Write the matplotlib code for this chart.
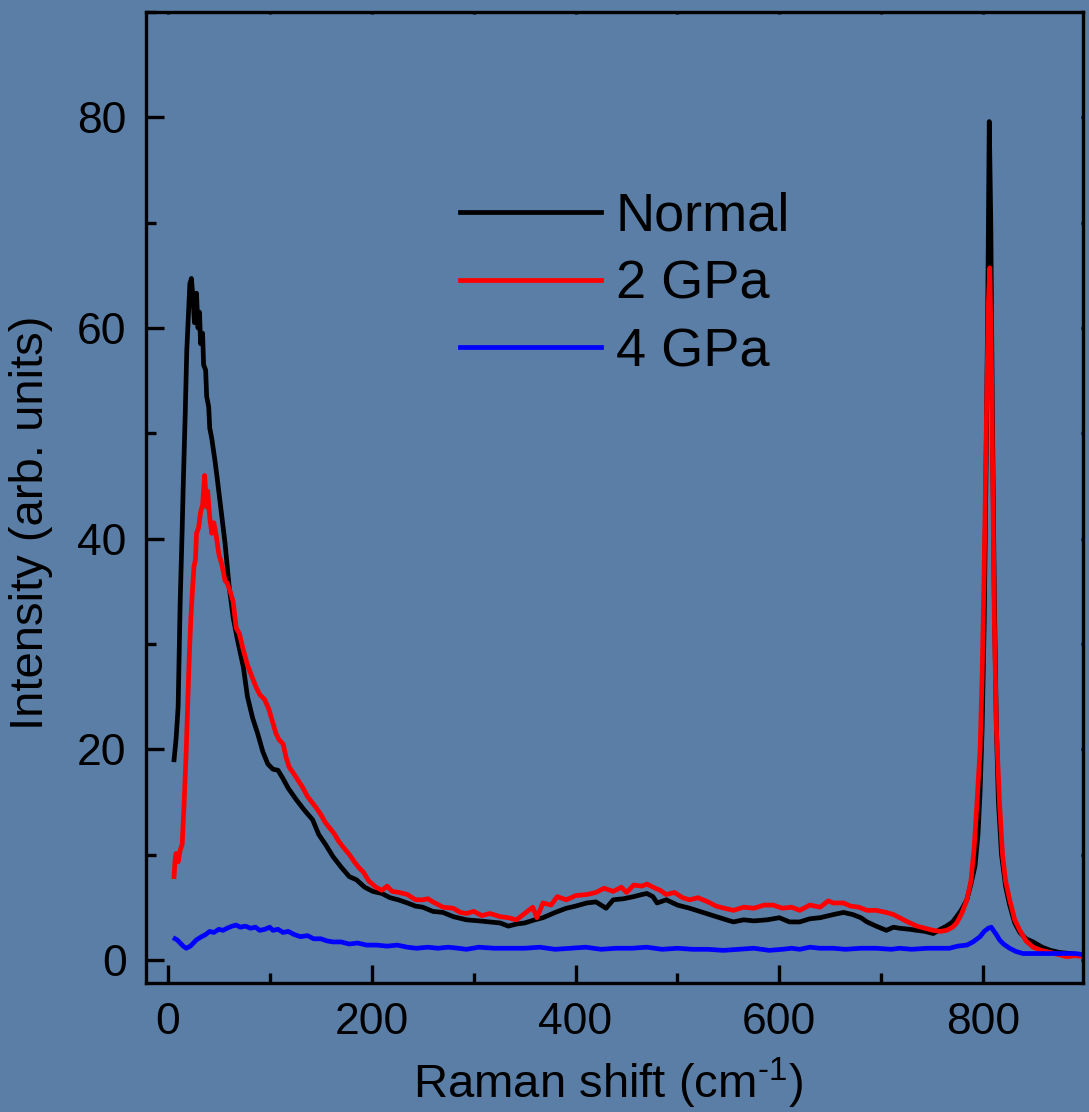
import numpy as np
import matplotlib
matplotlib.use("Agg")
import matplotlib.pyplot as plt
from matplotlib.ticker import MultipleLocator

plt.rcParams['font.family'] = ['Liberation Sans', 'DejaVu Sans']
plt.rcParams['mathtext.fontset'] = 'custom'
plt.rcParams['mathtext.rm'] = 'Liberation Sans'
plt.rcParams['mathtext.it'] = 'Liberation Sans'

# ---------------- data ----------------

normal_x = [6, 8, 10, 12, 14, 15, 17, 18.5, 20, 21.5, 23, 24.5, 26, 27, 28, 29.5, 31, 32, 34, 35,
            37, 38, 40, 41, 43, 46, 48, 51, 53, 56, 60, 64, 68, 74, 78, 83, 88, 93, 98, 103,
            108, 113, 118, 126, 134, 142, 148, 155, 162, 170, 178, 185, 193, 201, 210, 218, 226, 235, 243, 250,
            260, 270, 280, 293, 305, 315, 326, 334, 342, 350, 360, 368, 380, 391, 400, 411, 420, 430, 437, 447,
            457, 465, 470, 476, 480, 489, 500, 512, 525, 538, 548, 555, 565, 575, 588, 600, 610, 620, 630, 640,
            653, 663, 672, 680, 686, 695, 705, 712, 718, 728, 735, 743, 751, 758, 764, 770, 774, 779, 784, 788,
            792, 795, 797, 799, 801, 803, 804.5, 806, 807.5, 809, 811, 813, 815, 818, 822, 826, 831, 836, 842, 849,
            858, 866, 875, 885, 898]
normal_y = [19.0, 21, 24, 34, 41, 45, 52, 57.9, 61, 64.2, 64.7, 63, 60.5, 62.5, 63.3, 60, 61.5, 58.5, 59.5, 56.5,
            56, 53.5, 52.5, 50.5, 49.5, 47.5, 46, 43.6, 42, 39.6, 35.5, 32.5, 30.5, 27.8, 25, 23, 21.5, 19.8, 18.6, 18.1,
            18, 17.2, 16.3, 15.2, 14.2, 13.3, 11.9, 10.9, 9.8, 8.8, 7.9, 7.6, 6.9, 6.5, 6.3, 5.9, 5.7, 5.4, 5.1, 5.0,
            4.6, 4.5, 4.1, 3.8, 3.7, 3.6, 3.5, 3.2, 3.4, 3.5, 3.8, 4.0, 4.5, 4.9, 5.1, 5.4, 5.5, 4.9, 5.7, 5.8,
            6.0, 6.2, 6.3, 6.0, 5.4, 5.7, 5.2, 4.9, 4.5, 4.1, 3.8, 3.6, 3.8, 3.7, 3.8, 4.0, 3.6, 3.6, 3.9, 4.0,
            4.3, 4.5, 4.3, 4.0, 3.6, 3.2, 2.8, 3.1, 3.0, 2.9, 2.8, 2.7, 2.5, 2.9, 3.2, 3.6, 4.1, 4.8, 5.7, 7.2,
            8.9, 12, 16, 22, 32, 48, 62, 79.6, 70, 52, 34, 22, 15, 10, 7, 5.2, 3.5, 2.6, 2.0, 1.7,
            1.2, 0.9, 0.7, 0.6, 0.4]

gpa2_x = [6, 7, 8, 10, 12, 14, 16, 18, 19.5, 21, 22.5, 24, 25.5, 27, 28, 30, 32, 34, 36, 37,
          38, 39, 41, 43, 45, 47, 50, 53, 56, 58, 61, 64, 67, 70, 74, 78, 82, 86, 90, 95,
          99, 103, 106, 109, 113, 116, 119, 124, 128, 132, 137, 141, 145, 150, 154, 158, 163, 168, 172, 178,
          183, 187, 192, 197, 204, 210, 215, 220, 227, 235, 243, 250, 255, 260, 270, 280, 287, 293, 300, 308,
          316, 326, 334, 342, 350, 358, 362, 368, 376, 382, 391, 400, 411, 420, 428, 437, 445, 450, 457, 465,
          470, 476, 483, 489, 497, 505, 512, 520, 530, 538, 546, 555, 565, 575, 585, 594, 603, 612, 620, 630,
          640, 648, 653, 663, 670, 678, 686, 695, 705, 712, 718, 726, 735, 743, 751, 758, 764, 770, 774, 779,
          784, 788, 791, 794, 797, 799, 801, 803, 805, 806.5, 808, 809.5, 811, 813, 816, 819, 822, 826, 831, 836,
          842, 849, 857, 866, 874, 882, 890, 898]
gpa2_y = [7.9, 9.5, 10.1, 9.3, 10.4, 11, 15.2, 20, 24.7, 29, 32.5, 35, 37.3, 38, 40.5, 41, 42.5, 43.2, 46, 44.5,
          43, 44.5, 42, 40.5, 41.5, 40.5, 38.5, 37.5, 36, 35.8, 35, 34, 31.5, 31, 29.4, 28, 27, 26, 25.2, 24.7,
          23.8, 22.5, 21.5, 20.9, 20.5, 19.2, 18.3, 17.6, 17, 16.4, 15.5, 15.0, 14.5, 13.8, 13.1, 12.6, 12, 11.2, 10.7, 10,
          9.3, 8.8, 8.3, 7.5, 6.9, 6.6, 7.0, 6.5, 6.4, 6.2, 5.7, 5.7, 5.8, 5.5, 5.0, 4.9, 4.5, 4.4, 4.6, 4.2,
          4.4, 4.1, 4.0, 3.8, 4.4, 5.0, 4.0, 5.4, 5.2, 6.0, 5.7, 6.1, 6.2, 6.4, 6.8, 6.5, 6.9, 6.4, 7.1, 7.0,
          7.2, 6.9, 6.6, 6.2, 6.4, 5.9, 5.7, 5.9, 5.5, 5.1, 4.9, 4.7, 5.0, 4.9, 5.2, 5.2, 4.9, 5.0, 4.7, 5.2,
          5.0, 5.6, 5.4, 5.4, 5.1, 5.0, 4.7, 4.7, 4.5, 4.3, 4.0, 3.6, 3.2, 3.0, 2.8, 2.7, 2.8, 3.1, 3.5, 4.4,
          5.7, 7.5, 10.4, 15, 20, 27, 37, 50, 62, 65.7, 58, 45, 32, 22, 15, 10, 7.5, 5.7, 3.8, 2.8,
          1.8, 1.2, 0.9, 0.7, 0.5, 0.3, 0.4, 0.3]

gpa4_x = [7, 9, 12, 15, 18, 22, 25, 28, 33, 37, 41, 45, 50, 54, 58, 63, 67, 71, 76, 81,
          86, 90, 95, 100, 103, 108, 113, 118, 124, 130, 137, 143, 150, 156, 162, 170, 178, 186, 195, 205,
          215, 225, 235, 244, 255, 265, 275, 285, 293, 305, 320, 335, 350, 365, 380, 395, 410, 425, 440, 455,
          470, 485, 500, 515, 530, 545, 560, 575, 590, 603, 612, 620, 630, 640, 653, 665, 680, 695, 710, 718,
          730, 745, 758, 767, 775, 784, 790, 797, 801, 805, 808, 810, 813, 816, 820, 826, 832, 839, 850, 866,
          880, 890, 898]
gpa4_y = [2.0, 1.9, 1.6, 1.3, 1.1, 1.3, 1.6, 1.9, 2.2, 2.4, 2.7, 2.6, 2.9, 2.8, 3.0, 3.2, 3.3, 3.1, 3.2, 3.0,
          3.1, 2.8, 2.9, 3.1, 2.8, 2.9, 2.6, 2.7, 2.4, 2.2, 2.3, 2.0, 2.0, 1.8, 1.7, 1.7, 1.5, 1.6, 1.4, 1.4,
          1.3, 1.4, 1.2, 1.1, 1.2, 1.1, 1.2, 1.1, 1.0, 1.2, 1.1, 1.1, 1.1, 1.2, 1.0, 1.1, 1.2, 1.0, 1.1, 1.1,
          1.2, 1.0, 1.1, 1.0, 1.0, 0.9, 1.0, 1.1, 0.9, 1.0, 1.1, 1.0, 1.2, 1.1, 1.1, 1.0, 1.1, 1.1, 1.0, 1.1,
          1.0, 1.1, 1.1, 1.1, 1.3, 1.4, 1.7, 2.2, 2.7, 3.0, 3.1, 2.8, 2.4, 1.9, 1.5, 1.1, 0.8, 0.6, 0.6, 0.6,
          0.6, 0.6, 0.5]

labels = ['Normal', '2 GPa', '4 GPa']
colors = ['black', 'red', 'blue']

# ---------------- figure ----------------

bg = '#5a7ea6'
fig = plt.figure(figsize=(10.89, 11.12), dpi=100, facecolor=bg)
ax = fig.add_axes([0.1341, 0.1160, 0.8604, 0.8732])
ax.set_facecolor('none')

series = [(normal_x, normal_y), (gpa2_x, gpa2_y), (gpa4_x, gpa4_y)]
for (xs, ys), lab, col in zip(series, labels, colors):
    ax.plot(xs, ys, color=col, lw=3.4, label=lab, solid_joinstyle='round')

ax.set_xlim(-21.5, 898)
ax.set_ylim(-2.2, 90)

ax.xaxis.set_major_locator(MultipleLocator(200))
ax.xaxis.set_minor_locator(MultipleLocator(100))
ax.yaxis.set_major_locator(MultipleLocator(20))
ax.yaxis.set_minor_locator(MultipleLocator(10))

for s in ax.spines.values():
    s.set_linewidth(2.4)
ax.tick_params(which='major', direction='in', length=13, width=2.4, labelsize=32)
ax.tick_params(which='minor', direction='in', length=7, width=2.4)
ax.tick_params(axis='x', which='major', pad=14)
ax.tick_params(axis='y', which='major', pad=14)
ax.tick_params(which='both', top=True, right=True)
for t in ax.xaxis.get_ticklines(minor=False)[1::2] + ax.xaxis.get_ticklines(minor=True)[1::2]:
    t.set_markersize(1.5)
for t in ax.yaxis.get_ticklines(minor=False)[1::2] + ax.yaxis.get_ticklines(minor=True)[1::2]:
    t.set_markersize(1.5)

ax.set_xlabel('Raman shift (cm$^{\\text{-1}}$)', fontsize=34)
ax.set_ylabel('Intensity (arb. units)', fontsize=34)
ax.xaxis.set_label_coords(0.493, -0.075)
ax.yaxis.set_label_coords(-0.099, 0.474)

leg = ax.legend(loc='upper left', bbox_to_anchor=(0.335, 0.815), frameon=False, fontsize=39,
                handlelength=2.6, handletextpad=0.28, labelspacing=0.33,
                borderaxespad=0, borderpad=0)
for h in leg.get_lines():
    h.set_linewidth(3.4)

fig.savefig('out.png', dpi=100, facecolor=bg)
